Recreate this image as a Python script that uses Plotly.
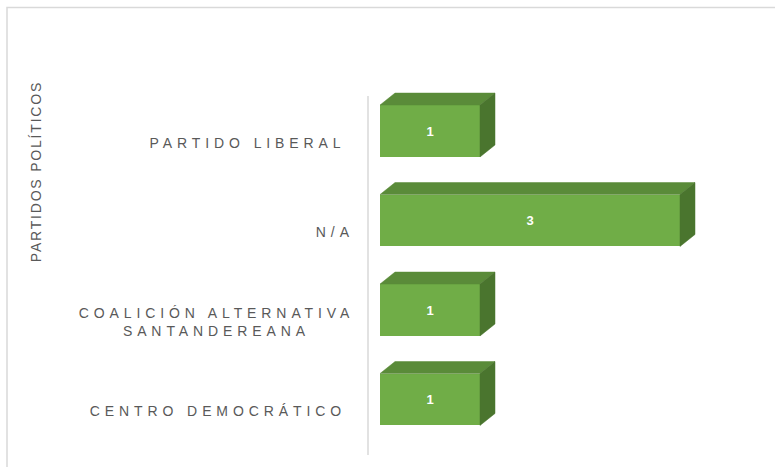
import json
import plotly.graph_objects as go

# ---- data (top to bottom as shown) ----
categories = ["PARTIDO LIBERAL", "N/A", "COALICIÓN ALTERNATIVA SANTANDEREANA", "CENTRO DEMOCRÁTICO"]
values = [1, 3, 1, 1]
axis_title = "PARTIDOS POLÍTICOS"

# ---- style ----
W, H = 775, 467
ML, MR, MT, MB = 368, 15, 88, 12
PW, PH = W - ML - MR, H - MT - MB
FRONT, TOP, SIDE = "#70AD47", "#5A8B39", "#4A752E"
TXT = "#595959"
FONT = "Liberation Sans, Arial, sans-serif"
BAR_H = 0.58          # category units
DX, DY = 0.15, 0.134  # 3-D depth offsets (x units, category units)
LABEL_RIGHT_PX = [343, 351, 351, 343]
LABEL_DROP = 0.134
LS_LABEL, LS_TITLE = 4.9, 1.8

n = len(categories)
pos = [n - 1 - i for i in range(n)]  # top category gets highest position
x_range = [-0.12, -0.12 + PW / 100.0]
y_lo = -(455 - 399.5) / 89.5
y_range = [y_lo, y_lo + PH / 89.5]

def wrap(label):
    if len(label) > 22:
        words = label.split(" ")
        return " ".join(words[:-1]) + "<br>" + words[-1]
    return label

fig = go.Figure()
fig.add_trace(go.Bar(
    x=values, y=pos, orientation="h", width=BAR_H,
    marker=dict(color=FRONT, line=dict(width=0)),
    text=[str(v) for v in values], textposition="inside",
    insidetextanchor="middle", textangle=0,
    textfont=dict(color="white", size=13, family=FONT, weight="bold"),
    hoverinfo="skip", showlegend=False,
))

tx, ty, sx, sy = [], [], [], []
for v, p in zip(values, pos):
    top = p + BAR_H / 2
    bot = p - BAR_H / 2
    tx += [0, v, v + DX, DX, 0, None]
    ty += [top, top, top + DY, top + DY, top, None]
    sx += [v, v, v + DX, v + DX, v, None]
    sy += [bot, top, top + DY, bot + DY, bot, None]
fig.add_trace(go.Scatter(x=tx, y=ty, mode="lines", fill="toself", fillcolor=TOP,
                         line=dict(color=TOP, width=0.5), hoverinfo="skip", showlegend=False))
fig.add_trace(go.Scatter(x=sx, y=sy, mode="lines", fill="toself", fillcolor=SIDE,
                         line=dict(color=SIDE, width=0.5), hoverinfo="skip", showlegend=False))

annotations = []
for i, (c, p) in enumerate(zip(categories, pos)):
    annotations.append(dict(
        text=wrap(c), x=(LABEL_RIGHT_PX[i] - ML) / PW, xref="paper", xanchor="right",
        y=p - LABEL_DROP, yref="y", yanchor="middle", align="center", showarrow=False,
        font=dict(size=14, color=TXT, family=FONT),
    ))
annotations.append(dict(
    text=axis_title, x=(36 - ML) / PW, xref="paper", xanchor="center",
    y=(MT + PH - 172) / PH, yref="paper", yanchor="middle", textangle=-90, showarrow=False,
    font=dict(size=14, color=TXT, family=FONT),
))

shapes = [
    dict(type="rect", xref="paper", yref="paper", layer="below",
         x0=(7 - ML) / PW, x1=(790 - ML) / PW,
         y0=(MT + PH - 475) / PH, y1=(MT + PH - 7.5) / PH,
         line=dict(color="#D9D9D9", width=1.5), fillcolor="rgba(0,0,0,0)"),
    dict(type="line", xref="paper", yref="paper", layer="below",
         x0=0, x1=0, y0=0, y1=(MT + PH - 96) / PH,
         line=dict(color="#D9D9D9", width=1.5)),
]

fig.update_layout(
    width=W, height=H, margin=dict(l=ML, r=MR, t=MT, b=MB),
    paper_bgcolor="white", plot_bgcolor="white",
    xaxis=dict(range=x_range, visible=False, fixedrange=True),
    yaxis=dict(range=y_range, visible=False, fixedrange=True),
    annotations=annotations, shapes=shapes, bargap=0,
    font=dict(family=FONT, color=TXT),
)

spec = {str(i): [LS_LABEL, 1] for i in range(n)}
spec[str(n)] = [LS_TITLE, 0]
post = """
document.body.style.margin='0';
document.body.style.overflow='hidden';
var spec = %s;
var gd = document.querySelector('.js-plotly-plot');
gd.querySelectorAll('g.annotation').forEach(function(g){
  var s = spec[g.getAttribute('data-index')];
  if(!s) return;
  var t = g.querySelector('text.annotation-text');
  if(!t) return;
  var b0 = t.getBBox();
  t.style.letterSpacing = s[0] + 'px';
  var b1 = t.getBBox();
  if(s[1]){
    var dx = (b0.x + b0.width) - (b1.x + b1.width - s[0]);
    t.setAttribute('transform', 'translate(' + dx + ',0)');
  }
});
""" % json.dumps(spec)

fig.write_html("out.html", post_script=post, config={"displayModeBar": False, "responsive": False})
